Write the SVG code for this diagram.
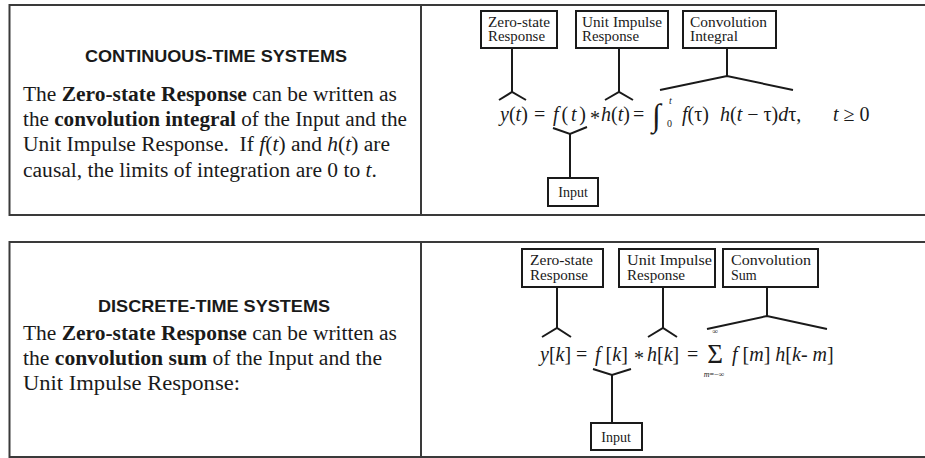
<svg xmlns="http://www.w3.org/2000/svg" width="925" height="458" viewBox="0 0 925 458">
<style>
.panel{fill:none;stroke:#3a3a3a;stroke-width:2}
.box{fill:#fff;stroke:#1a1a1a;stroke-width:2}
.con{fill:none;stroke:#1a1a1a;stroke-width:2;stroke-linejoin:miter}
.title{font-family:"Liberation Sans",Arial,sans-serif;font-weight:bold;font-size:17px;fill:#1a1a1a;text-anchor:middle}
.body{font-family:"Liberation Serif","Times New Roman",serif;font-size:20px;fill:#1a1a1a}
.lbl{font-family:"Liberation Serif","Times New Roman",serif;font-size:14px;fill:#1a1a1a}
.eq{font-family:"Liberation Serif","Times New Roman",serif;font-size:20px;fill:#1a1a1a}
.big{font-family:"Liberation Serif","Times New Roman",serif;font-size:32px;fill:#1a1a1a}
.sig{font-family:"Liberation Serif","Times New Roman",serif;font-size:27px;fill:#1a1a1a}
.sm{font-family:"Liberation Serif","Times New Roman",serif;font-size:10px;fill:#1a1a1a}
.xs{font-family:"Liberation Serif","Times New Roman",serif;font-size:8px;fill:#1a1a1a}
.i{font-style:italic}
.b{font-weight:bold}
</style>
<rect width="925" height="458" fill="#fff"/>

<g id="panel-continuous">
<rect class="panel" x="9.5" y="5" width="930" height="210"/>
<line class="panel" x1="421" y1="5" x2="421" y2="215"/>
<text class="title" x="216" y="62" textLength="262" lengthAdjust="spacingAndGlyphs">CONTINUOUS-TIME SYSTEMS</text>
<text class="body" x="23" y="101" textLength="374" lengthAdjust="spacingAndGlyphs">The <tspan class="b">Zero-state Response</tspan> can be written as</text>
<text class="body" x="23" y="126" textLength="384" lengthAdjust="spacingAndGlyphs">the <tspan class="b">convolution integral</tspan> of the Input and the</text>
<text class="body" x="23" y="151" textLength="367" lengthAdjust="spacingAndGlyphs" xml:space="preserve">Unit Impulse Response.  If <tspan class="i">f</tspan>(<tspan class="i">t</tspan>) and <tspan class="i">h</tspan>(<tspan class="i">t</tspan>) are</text>
<text class="body" x="23" y="177" textLength="354" lengthAdjust="spacingAndGlyphs">causal, the limits of integration are 0 to <tspan class="i">t</tspan>.</text>
</g>

<g id="panel-discrete">
<rect class="panel" x="9.5" y="242" width="930" height="215"/>
<line class="panel" x1="421" y1="242" x2="421" y2="457"/>
<text class="title" x="214" y="312" textLength="232" lengthAdjust="spacingAndGlyphs">DISCRETE-TIME SYSTEMS</text>
<text class="body" x="23" y="340" textLength="374" lengthAdjust="spacingAndGlyphs">The <tspan class="b">Zero-state Response</tspan> can be written as</text>
<text class="body" x="23" y="365" textLength="359" lengthAdjust="spacingAndGlyphs">the <tspan class="b">convolution sum</tspan> of the Input and the</text>
<text class="body" x="23" y="390" textLength="217" lengthAdjust="spacingAndGlyphs">Unit Impulse Response:</text>
</g>

<g id="connectors">
<polyline class="con" points="512,48 512,92"/>
<polyline class="con" points="499,100 512,92 526,100"/>
<polyline class="con" points="619,48 619,92"/>
<polyline class="con" points="605,100 619,92 633,100"/>
<polyline class="con" points="727,48 727,76"/>
<polyline class="con" points="660,90 727,76 793,90"/>
<polyline class="con" points="553,128 570,134 587,127"/>
<polyline class="con" points="570,134 570,178"/>

<polyline class="con" points="557,287 557,328"/>
<polyline class="con" points="542,337 557,328 571,337"/>
<polyline class="con" points="663,287 663,328"/>
<polyline class="con" points="648,337 663,328 677,337"/>
<polyline class="con" points="767,287 767,316"/>
<polyline class="con" points="707,329 767,316 827,329"/>
<polyline class="con" points="593,369 612,375 631,369"/>
<polyline class="con" points="612,375 612,423"/>
</g>

<g id="label-zsr-ct">
<rect class="box" x="481" y="11" width="76" height="37"/>
<text class="lbl" x="488" y="27" textLength="62" lengthAdjust="spacingAndGlyphs">Zero-state</text>
<text class="lbl" x="488" y="41" textLength="57" lengthAdjust="spacingAndGlyphs">Response</text>
</g>
<g id="label-uir-ct">
<rect class="box" x="576" y="11" width="92" height="37"/>
<text class="lbl" x="582" y="27" textLength="80" lengthAdjust="spacingAndGlyphs">Unit Impulse</text>
<text class="lbl" x="582" y="41" textLength="57" lengthAdjust="spacingAndGlyphs">Response</text>
</g>
<g id="label-conv-int">
<rect class="box" x="683" y="11" width="93" height="37"/>
<text class="lbl" x="690" y="27" textLength="77" lengthAdjust="spacingAndGlyphs">Convolution</text>
<text class="lbl" x="690" y="41" textLength="48" lengthAdjust="spacingAndGlyphs">Integral</text>
</g>
<g id="label-input-ct">
<rect class="box" x="548" y="178" width="50" height="28"/>
<text class="lbl" x="573" y="197" text-anchor="middle">Input</text>
</g>

<g id="eq-ct">
<text class="eq" x="500" y="121"><tspan class="i">y</tspan>(<tspan class="i">t</tspan>)</text>
<text class="eq" x="534" y="121">=</text>
<text class="eq" x="553" y="121" textLength="33" lengthAdjust="spacing"><tspan class="i">f</tspan>(<tspan class="i">t</tspan>)</text>
<text class="eq" x="590" y="125">*</text>
<text class="eq" x="601" y="121"><tspan class="i">h</tspan>(<tspan class="i">t</tspan>)</text>
<text class="eq" x="633" y="121">=</text>
<text class="big" x="652" y="126">∫</text>
<text class="sm" x="667" y="127">0</text>
<text class="sm i" x="669" y="104">t</text>
<text class="eq" x="682" y="121"><tspan class="i">f</tspan>(τ)</text>
<text class="eq" x="720" y="121"><tspan class="i">h</tspan>(<tspan class="i">t</tspan> − τ)<tspan class="i">d</tspan>τ,</text>
<text class="eq" x="833" y="121"><tspan class="i">t</tspan> ≥ 0</text>
</g>

<g id="label-zsr-dt">
<rect class="box" x="522" y="249" width="81" height="38"/>
<text class="lbl" x="530" y="265" textLength="63" lengthAdjust="spacingAndGlyphs">Zero-state</text>
<text class="lbl" x="530" y="280" textLength="58" lengthAdjust="spacingAndGlyphs">Response</text>
</g>
<g id="label-uir-dt">
<rect class="box" x="619" y="249" width="96" height="38"/>
<text class="lbl" x="627" y="265" textLength="85" lengthAdjust="spacingAndGlyphs">Unit Impulse</text>
<text class="lbl" x="627" y="280" textLength="58" lengthAdjust="spacingAndGlyphs">Response</text>
</g>
<g id="label-conv-sum">
<rect class="box" x="723" y="249" width="95" height="38"/>
<text class="lbl" x="731" y="265" textLength="80" lengthAdjust="spacingAndGlyphs">Convolution</text>
<text class="lbl" x="731" y="280">Sum</text>
</g>
<g id="label-input-dt">
<rect class="box" x="591" y="423" width="51" height="27"/>
<text class="lbl" x="616" y="442" text-anchor="middle">Input</text>
</g>

<g id="eq-dt">
<text class="eq" x="540" y="361"><tspan class="i">y</tspan>[<tspan class="i">k</tspan>]</text>
<text class="eq" x="576" y="361">=</text>
<text class="eq" x="595" y="361"><tspan class="i">f</tspan> [<tspan class="i">k</tspan>]</text>
<text class="eq" x="634" y="365">*</text>
<text class="eq" x="647" y="361"><tspan class="i">h</tspan>[<tspan class="i">k</tspan>]</text>
<text class="eq" x="687" y="361">=</text>
<text class="sig" x="715" y="363" text-anchor="middle">Σ</text>
<text class="xs" x="715" y="334" text-anchor="middle">∞</text>
<text class="xs" x="714" y="377" text-anchor="middle"><tspan class="i">m</tspan>=−∞</text>
<text class="eq" x="732" y="361"><tspan class="i">f</tspan> [<tspan class="i">m</tspan>] <tspan class="i">h</tspan>[<tspan class="i">k</tspan>- <tspan class="i">m</tspan>]</text>
</g>
</svg>
